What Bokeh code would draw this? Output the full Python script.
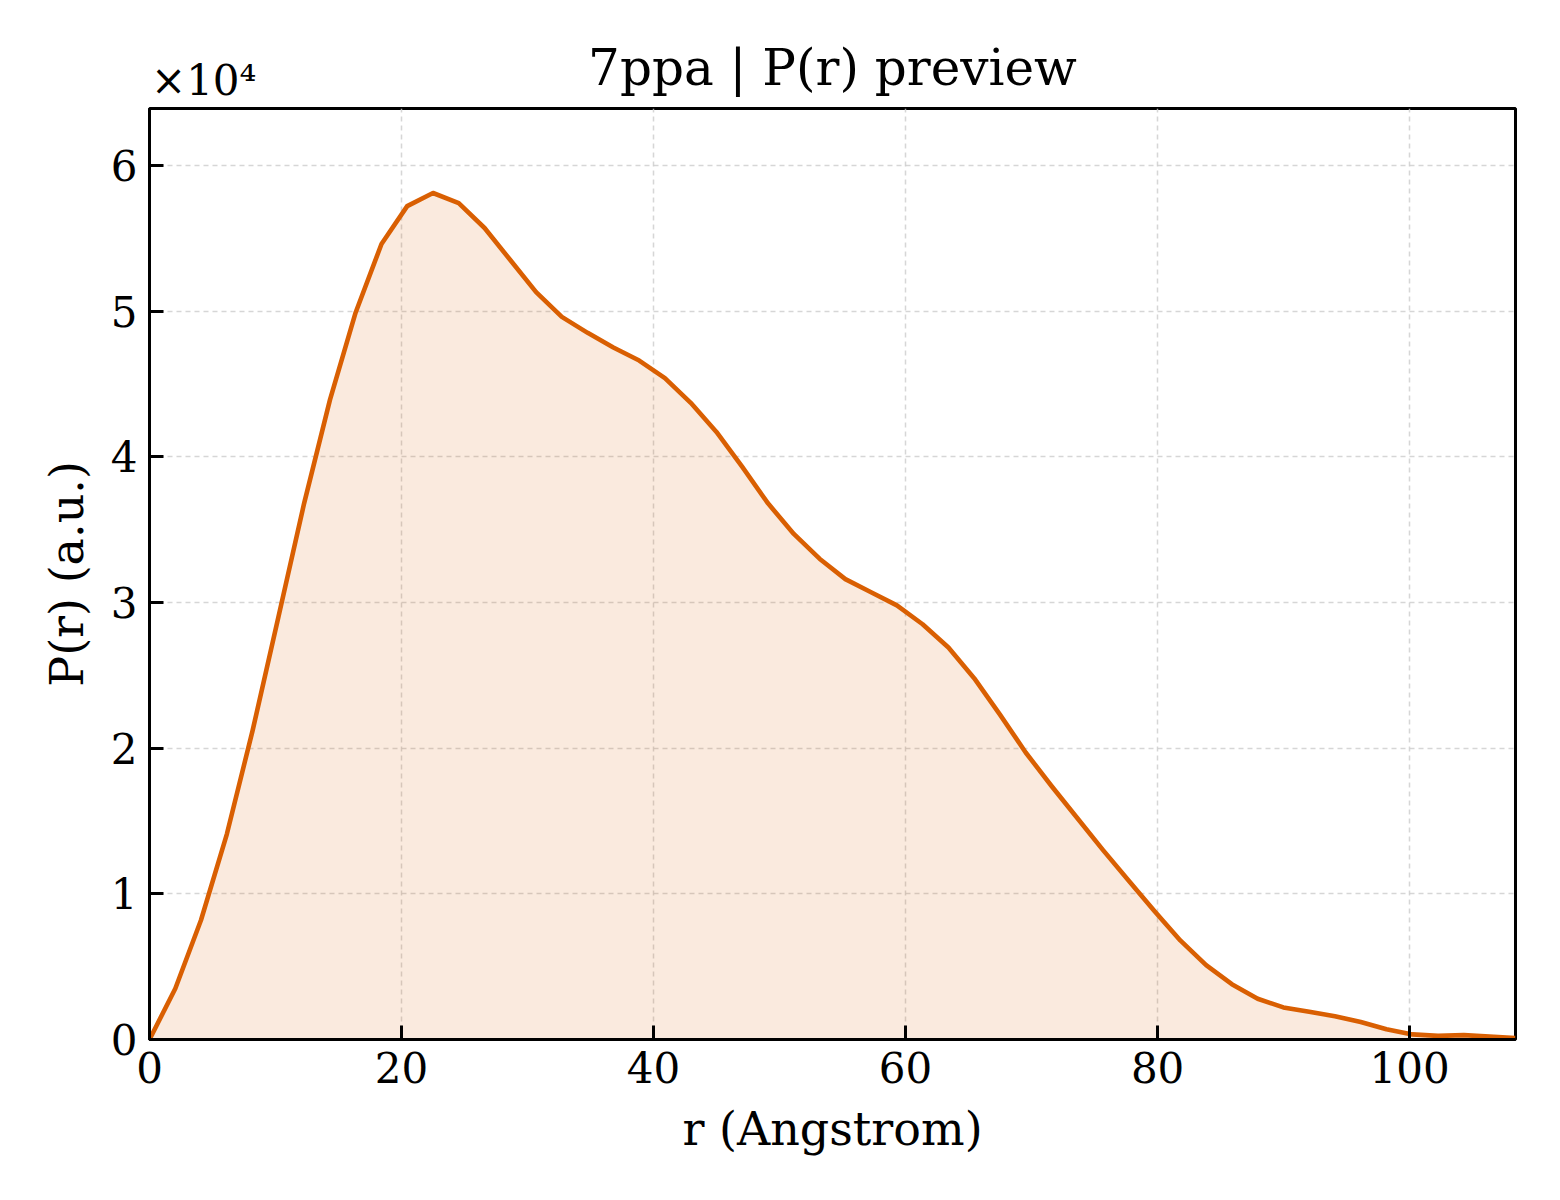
from bokeh.plotting import figure
from bokeh.models import LinearAxis, FixedTicker, CustomJSTickFormatter, Range1d
from bokeh.embed import file_html
from bokeh.resources import INLINE

r = [0.00, 2.05, 4.09, 6.14, 8.18, 10.23, 12.27, 14.32, 16.36, 18.41,
     20.45, 22.50, 24.54, 26.59, 28.63, 30.68, 32.72, 34.77, 36.81, 38.86,
     40.90, 42.95, 44.99, 47.04, 49.08, 51.13, 53.17, 55.22, 57.26, 59.31,
     61.35, 63.40, 65.44, 67.49, 69.53, 71.58, 73.62, 75.67, 77.71, 79.76,
     81.80, 83.85, 85.89, 87.94, 89.98, 92.03, 94.07, 96.12, 98.16, 100.21,
     102.25, 104.30, 106.34, 108.39]
pr = [0, 3500, 8200, 14100, 21200, 29000, 36800, 43900, 49900, 54600,
      57200, 58100, 57400, 55700, 53500, 51300, 49600, 48500, 47500, 46600,
      45400, 43700, 41700, 39300, 36800, 34700, 33000, 31600, 30700, 29800,
      28500, 26900, 24800, 22300, 19700, 17400, 15200, 13000, 10900, 8800,
      6800, 5100, 3800, 2800, 2200, 1900, 1600, 1200, 700, 350,
      250, 300, 200, 100]

x_ticks = [0, 20, 40, 60, 80, 100]
y_ticks = [0, 10000, 20000, 30000, 40000, 50000, 60000]

title_text = "7ppa | P(r) preview"
offset_text = "\u00d710\u2074"

FONT = "DejaVu Serif"
ORANGE = "#D95F02"

p = figure(
    width=1552, height=1192,
    frame_width=1366, frame_height=931,
    x_range=Range1d(0, 108.4), y_range=Range1d(0, 63900),
    output_backend="svg", toolbar_location=None,
    min_border_left=149, min_border_top=108, min_border_right=37, min_border_bottom=153,
)

p.varea(x=r, y1=0, y2=pr, fill_color=ORANGE, fill_alpha=0.13)
p.line(r, pr, line_color=ORANGE, line_width=4.6, line_join="round")

p.outline_line_color = "black"
p.outline_line_width = 3
p.outline_line_alpha = 1

for ax in (p.xaxis[0], p.yaxis[0]):
    ax.axis_line_width = 3
    ax.axis_line_color = "black"
    ax.major_tick_in = 14
    ax.major_tick_out = 0
    ax.major_tick_line_width = 3
    ax.major_tick_line_color = "black"
    ax.minor_tick_line_color = None
    ax.major_label_text_font = FONT
    ax.major_label_text_font_size = "42px"
    ax.major_label_text_color = "black"
    ax.axis_label_text_font = FONT
    ax.axis_label_text_font_size = "46px"
    ax.axis_label_text_font_style = "normal"
    ax.axis_label_text_color = "black"

p.xaxis.ticker = FixedTicker(ticks=x_ticks)
p.yaxis.ticker = FixedTicker(ticks=y_ticks)
p.yaxis.formatter = CustomJSTickFormatter(code="return (tick / 10000).toFixed(0);")
p.xaxis.major_label_standoff = 12
p.yaxis.major_label_standoff = 12
p.xaxis.axis_label = "r (Angstrom)"
p.yaxis.axis_label = "P(r) (a.u.)"
p.xaxis.axis_label_standoff = 16
p.yaxis.axis_label_standoff = 14


def text_axis(center, text, size, standoff):
    # an empty top axis used only to carry one piece of text outside the frame
    ax = LinearAxis(ticker=FixedTicker(ticks=[center]),
                    formatter=CustomJSTickFormatter(code="return %r;" % text))
    ax.axis_line_color = None
    ax.major_tick_line_color = None
    ax.minor_tick_line_color = None
    ax.major_label_text_font = FONT
    ax.major_label_text_font_size = size
    ax.major_label_text_color = "black"
    ax.major_label_standoff = standoff
    p.add_layout(ax, "above")


text_axis(4.3, offset_text, "42px", -2)
text_axis(54.2, title_text, "50px", -50)

p.grid.grid_line_color = "#cccccc"
p.grid.grid_line_width = 1.5
p.grid.grid_line_dash = "5 4"
p.grid.grid_line_alpha = 0.8

open("out.html", "w").write(file_html(p, INLINE))
